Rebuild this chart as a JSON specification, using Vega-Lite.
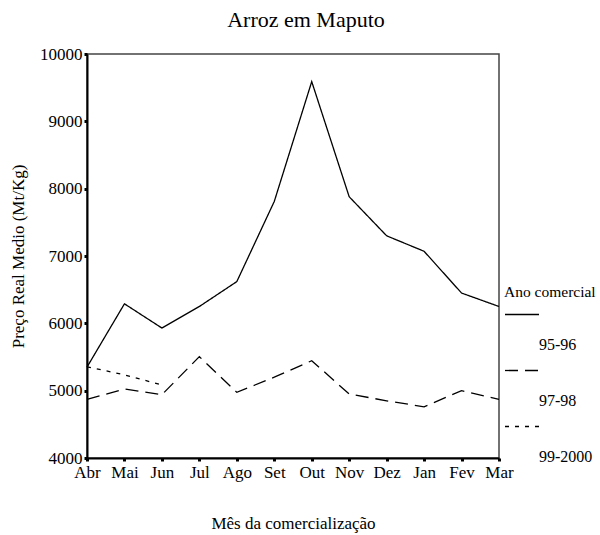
{
  "$schema": "https://vega.github.io/schema/vega-lite/v6.json",
  "autosize": {"type": "none"},
  "width": 412,
  "height": 404,
  "padding": {"left": 87, "top": 54, "right": 101, "bottom": 77},
  "background": "white",
  "title": {"text": "Arroz em Maputo", "font": "Liberation Serif", "fontSize": 22, "fontWeight": "normal", "color": "black", "offset": 13, "dx": 13},
  "config": {
    "font": "Liberation Serif",
    "view": {"stroke": "#444", "strokeWidth": 1.5},
    "axis": {"labelFont": "Liberation Serif", "titleFont": "Liberation Serif", "labelColor": "black", "titleColor": "black", "labelFontSize": 17, "titleFontSize": 17, "titleFontWeight": "normal", "domainColor": "black", "domainWidth": 2, "tickColor": "black", "tickWidth": 3, "tickSize": 3, "grid": false},
    "legend": {"titleFont": "Liberation Serif", "labelFont": "Liberation Serif"}
  },
  "data": {"values": [
    {"mes": "Abr", "ano": "95-96", "preco": 5350},
    {"mes": "Mai", "ano": "95-96", "preco": 6290},
    {"mes": "Jun", "ano": "95-96", "preco": 5930},
    {"mes": "Jul", "ano": "95-96", "preco": 6250},
    {"mes": "Ago", "ano": "95-96", "preco": 6620},
    {"mes": "Set", "ano": "95-96", "preco": 7810},
    {"mes": "Out", "ano": "95-96", "preco": 9590},
    {"mes": "Nov", "ano": "95-96", "preco": 7880},
    {"mes": "Dez", "ano": "95-96", "preco": 7300},
    {"mes": "Jan", "ano": "95-96", "preco": 7070},
    {"mes": "Fev", "ano": "95-96", "preco": 6450},
    {"mes": "Mar", "ano": "95-96", "preco": 6250},
    {"mes": "Abr", "ano": "97-98", "preco": 4870},
    {"mes": "Mai", "ano": "97-98", "preco": 5025},
    {"mes": "Jun", "ano": "97-98", "preco": 4940},
    {"mes": "Jul", "ano": "97-98", "preco": 5505},
    {"mes": "Ago", "ano": "97-98", "preco": 4975},
    {"mes": "Set", "ano": "97-98", "preco": 5200},
    {"mes": "Out", "ano": "97-98", "preco": 5445},
    {"mes": "Nov", "ano": "97-98", "preco": 4950},
    {"mes": "Dez", "ano": "97-98", "preco": 4850},
    {"mes": "Jan", "ano": "97-98", "preco": 4760},
    {"mes": "Fev", "ano": "97-98", "preco": 5000},
    {"mes": "Mar", "ano": "97-98", "preco": 4870},
    {"mes": "Abr", "ano": "99-2000", "preco": 5355},
    {"mes": "Mai", "ano": "99-2000", "preco": 5235},
    {"mes": "Jun", "ano": "99-2000", "preco": 5085}
  ]},
  "mark": {"type": "line", "color": "black", "strokeWidth": 1.3},
  "encoding": {
    "x": {"field": "mes", "type": "ordinal", "sort": ["Abr","Mai","Jun","Jul","Ago","Set","Out","Nov","Dez","Jan","Fev","Mar"], "scale": {"type": "point", "padding": 0}, "axis": {"title": "Mês da comercialização", "labelAngle": 0, "labelPadding": 3, "titlePadding": 35}},
    "y": {"field": "preco", "type": "quantitative", "scale": {"domain": [4000, 10000], "nice": false, "zero": false}, "axis": {"title": "Preço Real Medio (Mt/Kg)", "values": [4000,5000,6000,7000,8000,9000,10000], "format": "d", "labelPadding": 2, "titlePadding": 12}},
    "strokeDash": {"field": "ano", "type": "nominal", "scale": {"domain": ["95-96","97-98","99-2000"], "range": [[1,0],[13,7],[4,6]]}, "legend": {"orient": "none", "legendX": 417, "legendY": 231, "title": "Ano comercial", "titleFontSize": 15.5, "titleFontWeight": "normal", "titleColor": "black", "labelFontSize": 16, "labelColor": "black", "symbolType": "stroke", "symbolSize": 1156, "symbolStrokeColor": "black", "symbolStrokeWidth": 1.3, "rowPadding": -12, "labelOffset": -1, "titlePadding": -4, "encode": {"labels": {"update": {"dy": {"value": 30}}}}}}
  }
}
